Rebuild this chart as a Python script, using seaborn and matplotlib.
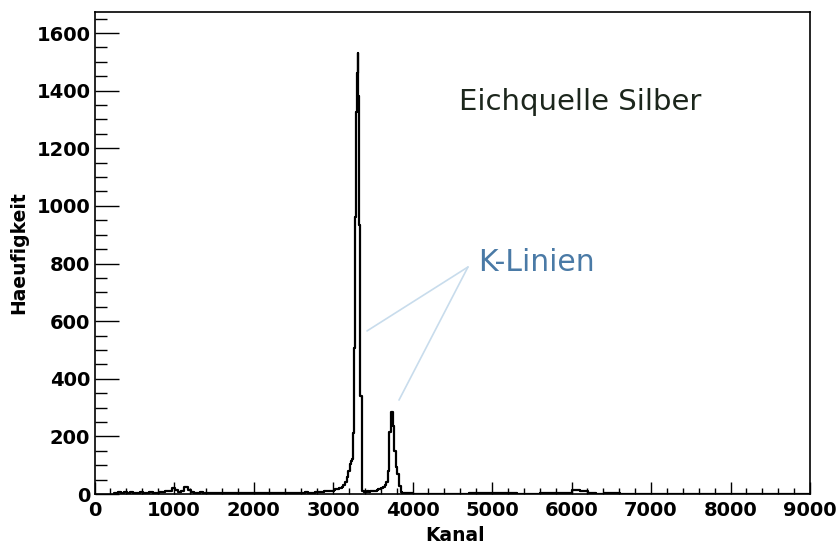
import numpy as np
import pandas as pd
import matplotlib
matplotlib.use("Agg")
import matplotlib.pyplot as plt
import seaborn as sns
from matplotlib.ticker import MultipleLocator

# ---------------- data (counts per channel bin) ----------------
# background region 250..3010, bin width 40
bg_start, bg_width = 250, 40
bg_counts = [4, 6, 5, 7, 5, 6, 4, 5, 6, 4,
             5, 7, 4, 5, 6, 8, 12, 10, 22, 14,
             6, 12, 26, 15, 6, 5, 4, 6, 3, 5,
             4, 3, 4, 3, 2, 3, 4, 2, 3, 2,
             3, 2, 3, 2, 3, 2, 3, 2, 3, 2,
             3, 2, 3, 2, 3, 3, 4, 3, 4, 5,
             6, 4, 5, 6, 7, 8, 9, 10, 12]
# left tail of main K line, 3010..3230, bin width 20
tail_start, tail_width = 3010, 20
tail_counts = [15, 16, 18, 20, 22, 26, 32, 42, 58, 80, 105]
# main K line core, 3230..3370, bin width 10
core_start, core_width = 3230, 10
core_counts = [115, 120, 212, 212, 508, 960, 1325, 1461, 1531, 1380,
               932, 341, 341, 20]
# second K line, 3370..3910, bin width 20
k2_start, k2_width = 3370, 20
k2_counts = [12, 8, 8, 9, 8, 10, 9, 11, 12, 14,
             16, 18, 22, 26, 32, 42, 80, 215, 283, 235,
             150, 95, 70, 28, 6, 4, 3]
# high channels 3910..9010, bin width 100
hi_start, hi_width = 3910, 100
hi_counts = [3, 0, 1, 0, 1, 0, 0, 1, 2, 2,
             2, 2, 2, 2, 1, 1, 1, 2, 2, 3,
             5, 14, 9, 2, 0, 2, 2, 0] + [0] * 23

segments = [(bg_start, bg_width, bg_counts),
            (tail_start, tail_width, tail_counts),
            (core_start, core_width, core_counts),
            (k2_start, k2_width, k2_counts),
            (hi_start, hi_width, hi_counts)]

edges = []
centers = []
weights = []
for start, width, cnts in segments:
    e = start + width * np.arange(len(cnts) + 1)
    if edges:
        e = e[1:]
    edges.extend(e.tolist())
    centers.extend((start + width * (np.arange(len(cnts)) + 0.5)).tolist())
    weights.extend(cnts)

df = pd.DataFrame({"Kanal": centers, "counts": weights})

# ---------------- plotting ----------------
sns.set_theme(style="white")
plt.rcParams["font.family"] = ["DejaVu Sans"]

fig = plt.figure(figsize=(8.38, 5.5), dpi=100)
ax = fig.add_axes([94.5 / 838, 56 / 550, (810 - 94.5) / 838, (494 - 12) / 550])

sns.histplot(data=df, x="Kanal", weights="counts", bins=edges,
             element="step", fill=False, color="black", linewidth=1.6, ax=ax)

ax.set_xlim(0, 9000)
ax.set_ylim(0, 1673)

for s in ax.spines.values():
    s.set_visible(True)
    s.set_color("black")
    s.set_linewidth(1.2)

ax.xaxis.set_major_locator(MultipleLocator(1000))
ax.xaxis.set_minor_locator(MultipleLocator(200))
ax.yaxis.set_major_locator(MultipleLocator(200))
ax.yaxis.set_minor_locator(MultipleLocator(50))
ax.tick_params(which="both", direction="in", top=False, right=False,
               bottom=True, left=True, colors="black")
ax.tick_params(axis="x", which="major", length=9, width=1, pad=5)
ax.tick_params(axis="x", which="minor", length=4.5, width=1)
ax.tick_params(axis="y", which="major", length=17, width=1, pad=3)
ax.tick_params(axis="y", which="minor", length=8.5, width=1)
for lab in ax.get_xticklabels() + ax.get_yticklabels():
    lab.set_fontsize(14)
    lab.set_fontweight("bold")

ax.set_xlabel("Kanal", fontsize=13.5, fontweight="bold", color="black")
ax.set_ylabel("Haeufigkeit", fontsize=13.5, fontweight="bold", color="black")
ax.xaxis.set_label_coords(0.504, -0.066)
ax.yaxis.set_label_coords(-0.093, 0.5)

ax.text(4585, 1361, "Eichquelle Silber", fontsize=21, color="#1c261c",
        ha="left", va="center")
ax.text(4820, 802, "K-Linien", fontsize=21.5, color="#4a7aa6",
        ha="left", va="center")
line_col = "#c8dcec"
ax.plot([4698, 3428], [788, 566], color=line_col, linewidth=1.2)
ax.plot([4698, 3830], [788, 326], color=line_col, linewidth=1.2)

fig.savefig("out.png", dpi=100)
